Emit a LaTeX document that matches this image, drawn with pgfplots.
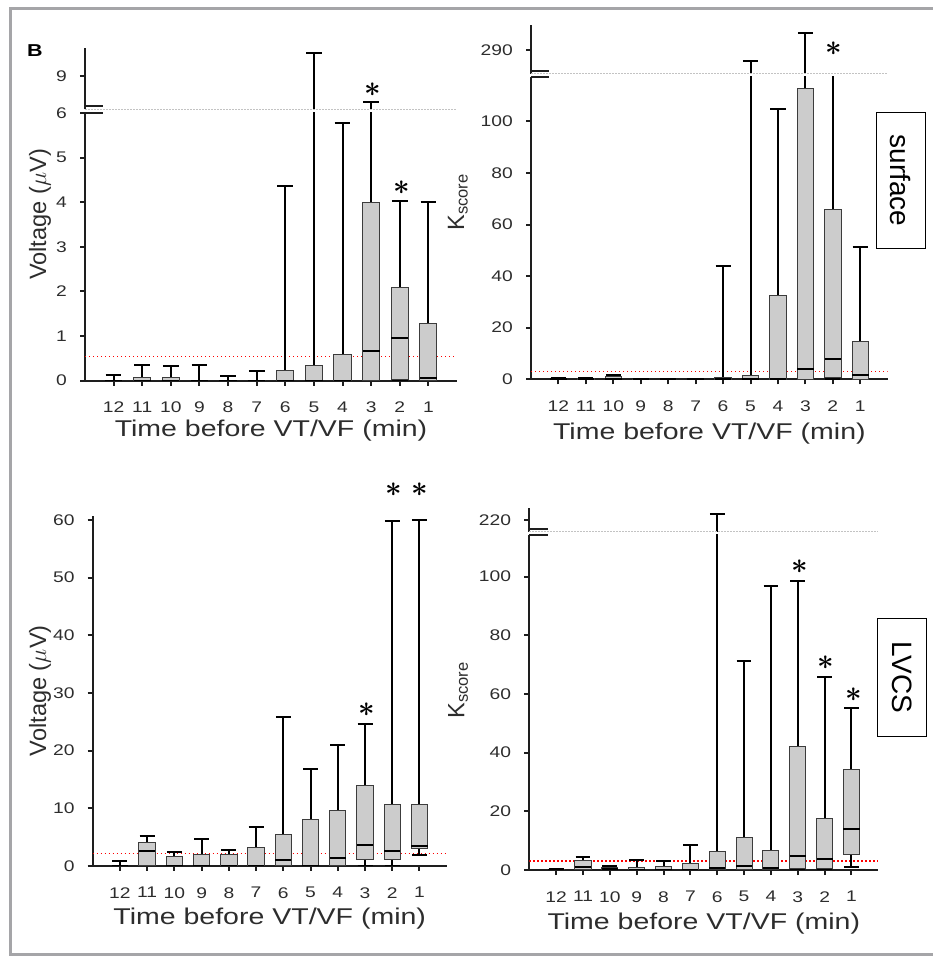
\documentclass[border=0pt]{standalone}
\usepackage{fontspec}
\setmainfont{Liberation Sans}[FakeStretch=1.25]
\newfontfamily\plainfont{Liberation Sans}
\usepackage{pgfplots}
\pgfplotsset{compat=1.18}
\usepgfplotslibrary{statistics}

\definecolor{framegray}{RGB}{165,165,168}
\definecolor{boxgray}{RGB}{204,204,204}
\definecolor{boxedge}{RGB}{60,60,60}
\definecolor{axisc}{RGB}{30,30,30}
\definecolor{textc}{RGB}{45,45,45}
\definecolor{breakgray}{RGB}{195,195,195}

\newcommand\ticksize{\fontsize{7.7}{9}\selectfont}
\newcommand\labsize{\fontsize{11.4}{13}\selectfont}
\newcommand\ylabsize{\fontsize{11.8}{13}\selectfont\plainfont}

% one box: position, lower whisker, lower quartile, median, upper quartile, upper whisker
\newcommand\bx[6]{\addplot[black, boxplot prepared={draw position=#1,
  lower whisker=#2, lower quartile=#3, median=#4, upper quartile=#5, upper whisker=#6}] coordinates {};}

% positions 1..12 = 12,11,...,1 min before VT/VF
\newcommand\dataA{%
\bx{1}{0}{0}{0}{0}{0.13}
\bx{2}{0}{0}{0}{0.07}{0.35}
\bx{3}{0}{0}{0}{0.08}{0.33}
\bx{4}{0}{0}{0}{0}{0.35}
\bx{5}{0}{0}{0}{0}{0.10}
\bx{6}{0}{0}{0}{0}{0.22}
\bx{7}{0}{0}{0}{0.22}{4.37}
\bx{8}{0}{0}{0}{0.34}{10.96}
\bx{9}{0}{0}{0}{0.58}{5.78}
\bx{10}{0}{0}{0.67}{4.00}{6.84}
\bx{11}{0}{0.03}{0.96}{2.10}{4.03}
\bx{12}{0}{0}{0.07}{1.29}{4.00}
}
\newcommand\dataB{%
\bx{1}{0}{0}{0}{0.1}{0.4}
\bx{2}{0}{0}{0.1}{0.3}{0.6}
\bx{3}{0}{0}{0.3}{0.9}{1.8}
\bx{4}{0}{0}{0}{0.1}{0.3}
\bx{5}{0}{0}{0}{0}{0.1}
\bx{6}{0}{0}{0}{0.1}{0.3}
\bx{7}{0}{0}{0.2}{0.8}{43.9}
\bx{8}{0}{0}{0.2}{1.5}{271.4}
\bx{9}{0}{0}{0.3}{32.4}{104.8}
\bx{10}{0}{0}{4.1}{112.6}{318.7}
\bx{11}{0}{0.6}{8.0}{65.7}{200}
\bx{12}{0}{0}{1.8}{14.6}{51.3}
}
\newcommand\dataC{%
\bx{1}{0}{0}{0}{0}{0.87}
\bx{2}{0}{0}{2.65}{4.1}{5.25}
\bx{3}{0}{0}{0}{1.6}{2.4}
\bx{4}{0}{0}{0}{2.0}{4.7}
\bx{5}{0}{0}{0}{2.0}{2.8}
\bx{6}{0}{0}{0}{3.2}{6.8}
\bx{7}{0}{0}{1.1}{5.5}{25.8}
\bx{8}{0}{0}{0}{8.0}{16.8}
\bx{9}{0}{0}{1.45}{9.7}{21.0}
\bx{10}{0}{1.15}{3.65}{13.9}{24.6}
\bx{11}{0}{1.15}{2.65}{10.6}{59.8}
\bx{12}{1.9}{2.95}{3.45}{10.6}{60.0}
}
\newcommand\dataD{%
\bx{1}{0}{0}{0}{0.1}{0.45}
\bx{2}{0}{0}{0.9}{3.1}{4.5}
\bx{3}{0}{0}{0.3}{0.8}{1.5}
\bx{4}{0}{0}{0}{0.9}{3.5}
\bx{5}{0}{0}{0}{1.25}{3.1}
\bx{6}{0}{0}{0}{2.15}{8.5}
\bx{7}{0}{0}{0.8}{6.25}{230.8}
\bx{8}{0}{0}{1.4}{11.1}{71.3}
\bx{9}{0}{0}{0.8}{6.6}{96.8}
\bx{10}{0}{0.5}{4.9}{42.0}{98.5}
\bx{11}{0}{0.5}{3.9}{17.6}{65.9}
\bx{12}{1.1}{5.45}{14.1}{34.4}{55.2}
}

\tikzset{
  redline/.style={red, line width=0.6pt, dash pattern=on 0.6pt off 1.4pt},
  breakmark/.style={axisc, line width=1pt},
  breakline/.style={breakgray, line width=0.6pt, dash pattern=on 1pt off 0.5pt},
  sigstar/.style={font=\fontsize{15}{15}\selectfont, inner sep=0pt},
}

\pgfplotsset{
  mybase/.style={
    scale only axis, anchor=south west, xmin=0, xmax=13,
    tick align=outside, major tick length=2.5pt,
    tick style={line width=1pt, axisc},
    axis line style={line width=1pt, axisc},
    ticklabel style={font=\ticksize, text=textc},
    yticklabel style={anchor=east, inner sep=0pt, xshift=-6.4pt},
    /pgf/number format/assume math mode=true,
    boxplot/draw direction=y,
    boxplot/box extend=0.6,
    boxplot/whisker extend=0.55,
    boxplot/every box/.style={draw=boxedge, fill=boxgray, line width=0.5pt},
    boxplot/every whisker/.style={black, line width=1pt},
    boxplot/every median/.style={black, line width=1pt},
  },
  lowerax/.style={mybase, ymin=0,
    axis x line*=bottom, axis y line*=left,
    xtick={1,2,3,4,5,6,7,8,9,10,11,12},
    xticklabels={12,11,10,9,8,7,6,5,4,3,2,1},
    xticklabel style={anchor=north, inner sep=0pt, yshift=-8pt},
    xlabel={Time before VT/VF (min)},
    xlabel style={anchor=center, font=\labsize, text=textc},
    ylabel style={anchor=center, font=\ylabsize, text=textc},
  },
  upperax/.style={mybase, axis x line=none, axis y line*=left, xtick=\empty},
}

\begin{document}
\begin{tikzpicture}
\path[use as bounding box] (0,0) rectangle (466pt,478pt);
\draw[framegray, line width=1.5pt] (470pt,473.85pt) -- (5pt,473.85pt) -- (5pt,0.65pt) -- (470pt,0.65pt);
\node[font=\bfseries\fontsize{8.6}{10}\selectfont, text=black] at (17.5pt,452.5pt) {B};

% ---------- Panel A: surface voltage ----------
\begin{axis}[lowerax, at={(42.5pt,287.65pt)}, width=186pt, height=134pt,
  ymax=6.009, ytick={0,1,2,3,4,5,6},
  xlabel style={at={(axis description cs:0.5,-0.188)}},
  ylabel={Voltage ($\mu$V)},
  ylabel style={at={(axis description cs:-0.121,0.62)}}]
\addplot[redline] coordinates {(0,0.55) (13,0.55)};
\dataA
\end{axis}
\begin{axis}[upperax, at={(42.5pt,423.35pt)}, width=186pt, height=30.8pt,
  ymin=6.2, ymax=11.38, ytick={9}]
\dataA
\end{axis}
\draw[breakmark] (42.5pt,421.65pt) -- ++(9.15pt,0pt);
\draw[breakmark] (42.5pt,425pt) -- ++(9.15pt,0pt);
\draw[breakline] (42.5pt,423.35pt) -- (228.5pt,423.35pt);
\node[sigstar] at (186.35pt,433.35pt) {{\boldmath$\ast$}};
\node[sigstar] at (200.85pt,384.15pt) {{\boldmath$\ast$}};

% ---------- Panel B: surface K score ----------
\begin{axis}[lowerax, at={(265.5pt,288.35pt)}, width=178.35pt, height=151.3pt,
  ymax=117.3, ytick={0,20,40,60,80,100},
  xlabel style={at={(axis description cs:0.5,-0.178)}},
  ylabel={K\textsubscript{score}},
  ylabel style={at={(axis description cs:-0.205,0.586)}}]
\addplot[redline] coordinates {(0,2.9) (13,2.9)};
\dataB
\end{axis}
\begin{axis}[upperax, at={(265.5pt,441.15pt)}, width=178.35pt, height=24.35pt,
  ymin=250, ymax=332.2, ytick={290}]
\dataB
\end{axis}
\draw[breakmark] (265.5pt,439.65pt) -- ++(9.15pt,0pt);
\draw[breakmark] (265.5pt,442.5pt) -- ++(9.15pt,0pt);
\draw[breakline] (265.5pt,441.15pt) -- (443.85pt,441.15pt);
\node[sigstar] at (416.85pt,453.85pt) {{\boldmath$\ast$}};
\node[draw=black, line width=0.5pt, rotate=-90, minimum width=67.8pt, minimum height=24.5pt,
  inner sep=0pt, font=\plainfont\fontsize{14}{16}\selectfont] at (450.35pt,387.75pt) {surface};

% ---------- Panel C: LVCS voltage ----------
\begin{axis}[lowerax, at={(46.35pt,45pt)}, width=177pt, height=175.15pt,
  ymax=60.74, ytick={0,10,20,30,40,50,60},
  xlabel style={at={(axis description cs:0.5,-0.149)}},
  ylabel={Voltage ($\mu$V)},
  ylabel style={at={(axis description cs:-0.149,0.5)}}]
\addplot[redline] coordinates {(0,2.15) (13,2.15)};
\dataC
\end{axis}
\node[sigstar] at (183.35pt,123pt) {{\boldmath$\ast$}};
\node[sigstar] at (196.65pt,233.35pt) {{\boldmath$\ast$}};
\node[sigstar] at (210pt,233.35pt) {{\boldmath$\ast$}};

% ---------- Panel D: LVCS K score ----------
\begin{axis}[lowerax, at={(264.65pt,43pt)}, width=174.5pt, height=167.65pt,
  ymax=114.3, ytick={0,20,40,60,80,100},
  xlabel style={at={(axis description cs:0.5,-0.159)}},
  ylabel={K\textsubscript{score}},
  ylabel style={at={(axis description cs:-0.204,0.537)}}]
\addplot[redline] coordinates {(0,3.05) (13,3.05)};
\dataD
\end{axis}
\begin{axis}[upperax, at={(264.65pt,212.15pt)}, width=174.5pt, height=12pt,
  ymin=200, ymax=241, ytick={220}]
\dataD
\end{axis}
\draw[breakmark] (264.65pt,210.65pt) -- ++(9.15pt,0pt);
\draw[breakmark] (264.65pt,213.65pt) -- ++(9.15pt,0pt);
\draw[breakline] (264.65pt,212.15pt) -- (439.15pt,212.15pt);
\node[sigstar] at (399.65pt,194.65pt) {{\boldmath$\ast$}};
\node[sigstar] at (413pt,146.65pt) {{\boldmath$\ast$}};
\node[sigstar] at (426.65pt,130.5pt) {{\boldmath$\ast$}};
\node[draw=black, line width=0.5pt, rotate=-90, minimum width=59.2pt, minimum height=24.5pt,
  inner sep=0pt, font=\plainfont\fontsize{14}{16}\selectfont] at (451.1pt,139.25pt) {LVCS};
\end{tikzpicture}
\end{document}
